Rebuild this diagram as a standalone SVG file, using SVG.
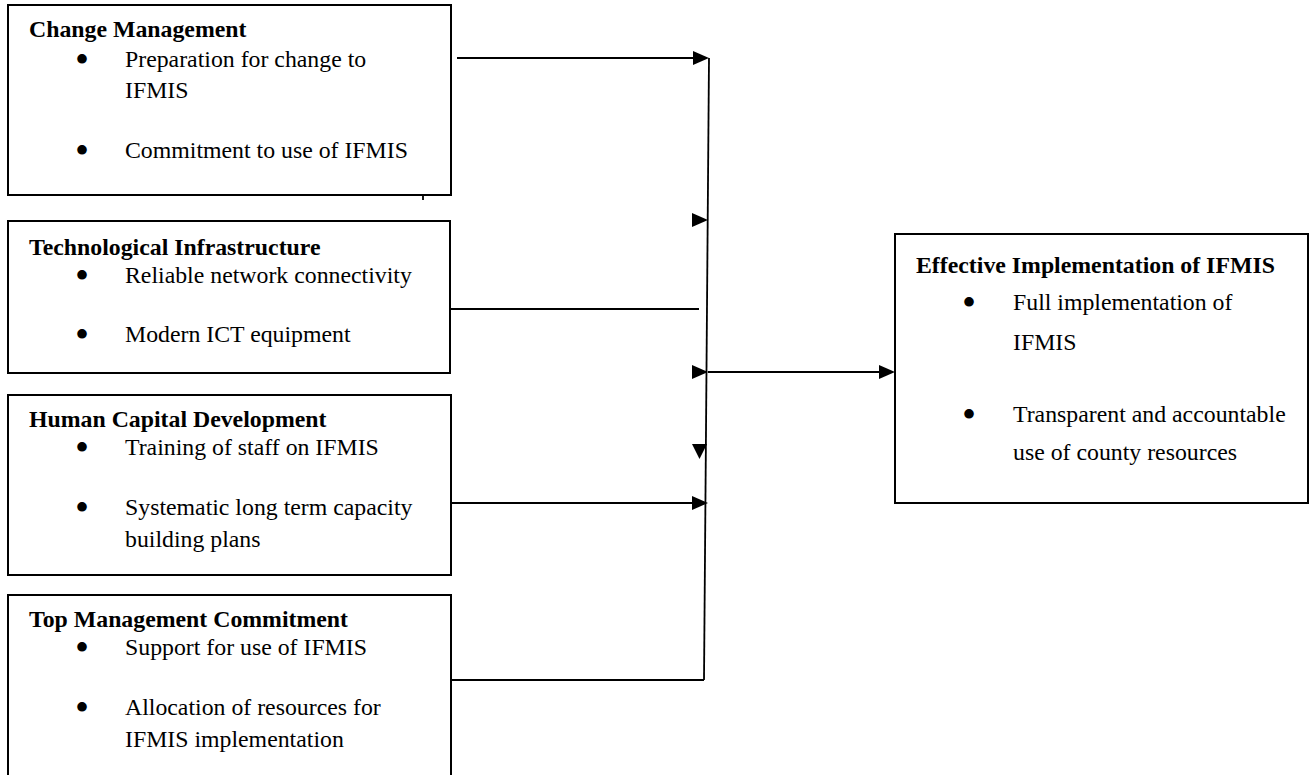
<svg xmlns="http://www.w3.org/2000/svg" xmlns:xlink="http://www.w3.org/1999/xlink" width="1314" height="775" viewBox="0 0 1314 775">
<style>
.box{fill:#fff;stroke:#000;stroke-width:2}
.t{font-family:"Liberation Serif","Times New Roman",serif;font-size:23.8px;fill:#000}
.b{font-weight:bold}
.bu{font-family:"Liberation Serif","Times New Roman",serif;font-size:40px;fill:#000}
.ln{stroke:#000;stroke-width:1.8;fill:none}
</style>
<defs>
<path id="ah" d="M-16,-7 L0,0 L-16,7 Z" fill="#000"/>
</defs>
<rect width="1314" height="775" fill="#fff"/>
<g id="change-management">
<rect class="box" x="8" y="5" width="443" height="190"/>
<line class="ln" x1="423" y1="195" x2="423" y2="200"/>
<text class="t b" x="29" y="37">Change Management</text>
<text class="bu" x="75" y="73">•</text>
<text class="t" x="125" y="67">Preparation for change to</text>
<text class="t" x="125" y="98">IFMIS</text>
<text class="bu" x="75" y="164">•</text>
<text class="t" x="125" y="158">Commitment to use of IFMIS</text>
</g>
<g id="technological-infrastructure">
<rect class="box" x="8" y="221" width="442" height="152"/>
<text class="t b" x="29" y="255">Technological Infrastructure</text>
<text class="bu" x="75" y="289">•</text>
<text class="t" x="125" y="283">Reliable network connectivity</text>
<text class="bu" x="75" y="348">•</text>
<text class="t" x="125" y="342">Modern ICT equipment</text>
</g>
<g id="human-capital">
<rect class="box" x="8" y="395" width="443" height="180"/>
<text class="t b" x="29" y="427">Human Capital Development</text>
<text class="bu" x="75" y="461">•</text>
<text class="t" x="125" y="455">Training of staff on IFMIS</text>
<text class="bu" x="75" y="521">•</text>
<text class="t" x="125" y="515">Systematic long term capacity</text>
<text class="t" x="125" y="547">building plans</text>
</g>
<g id="top-management">
<rect class="box" x="8" y="595" width="443" height="200"/>
<text class="t b" x="29" y="627">Top Management Commitment</text>
<text class="bu" x="75" y="661">•</text>
<text class="t" x="125" y="655">Support for use of IFMIS</text>
<text class="bu" x="75" y="721">•</text>
<text class="t" x="125" y="715">Allocation of resources for</text>
<text class="t" x="125" y="747">IFMIS implementation</text>
</g>
<g id="effective-implementation">
<rect class="box" x="895" y="234" width="413" height="269"/>
<text class="t b" x="916" y="273">Effective Implementation of IFMIS</text>
<text class="bu" x="962" y="316">•</text>
<text class="t" x="1013" y="310">Full implementation of</text>
<text class="t" x="1013" y="350">IFMIS</text>
<text class="bu" x="962" y="428">•</text>
<text class="t" x="1013" y="422">Transparent and accountable</text>
<text class="t" x="1013" y="460">use of county resources</text>
</g>
<g id="connectors">
<line class="ln" x1="457" y1="58" x2="695" y2="58"/>
<use xlink:href="#ah" x="709" y="58"/>
<line class="ln" x1="709" y1="58" x2="704" y2="680"/>
<use xlink:href="#ah" x="708" y="220"/>
<line class="ln" x1="450" y1="309" x2="699" y2="309"/>
<use xlink:href="#ah" x="708" y="372"/>
<line class="ln" x1="708" y1="372" x2="882" y2="372"/>
<use xlink:href="#ah" x="895" y="372"/>
<path d="M692,444 L707,444 L699.5,459 Z" fill="#000"/>
<line class="ln" x1="451" y1="503" x2="695" y2="503"/>
<use xlink:href="#ah" x="708" y="503"/>
<polyline class="ln" points="451,680 704,680"/>
</g>
</svg>
